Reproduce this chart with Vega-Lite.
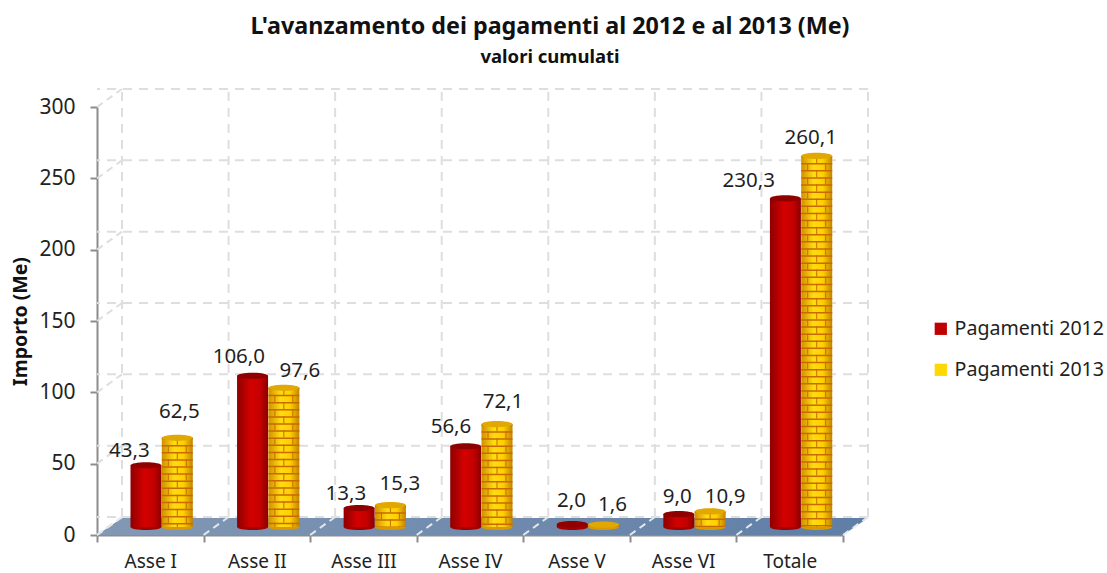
{
"$schema":"https://vega.github.io/schema/vega-lite/v6.json",
"width":746,"height":428,"autosize":"none","padding":{"left":97,"top":107,"right":264,"bottom":38},
"background":"white",
"config":{"view":{"stroke":null},"font":"Noto Sans"},
"title":{"text":"L'avanzamento dei pagamenti al 2012 e al 2013 (Me)","subtitle":"valori cumulati","anchor":"middle","dx":80,"offset":20,"font":"Noto Sans","fontSize":23.3,"fontWeight":"bold","color":"#111111","subtitleFont":"Noto Sans","subtitleFontSize":18.5,"subtitleFontWeight":"bold","subtitleColor":"#111111","subtitlePadding":9},
"datasets":{
"bars":[
{"asse":"Asse I","serie":"Pagamenti 2012","valore":43.3,"label":"43,3"},
{"asse":"Asse II","serie":"Pagamenti 2012","valore":106.0,"label":"106,0"},
{"asse":"Asse III","serie":"Pagamenti 2012","valore":13.3,"label":"13,3"},
{"asse":"Asse IV","serie":"Pagamenti 2012","valore":56.6,"label":"56,6"},
{"asse":"Asse V","serie":"Pagamenti 2012","valore":2.0,"label":"2,0"},
{"asse":"Asse VI","serie":"Pagamenti 2012","valore":9.0,"label":"9,0"},
{"asse":"Totale","serie":"Pagamenti 2012","valore":230.3,"label":"230,3"},
{"asse":"Asse I","serie":"Pagamenti 2013","valore":62.5,"label":"62,5"},
{"asse":"Asse II","serie":"Pagamenti 2013","valore":97.6,"label":"97,6"},
{"asse":"Asse III","serie":"Pagamenti 2013","valore":15.3,"label":"15,3"},
{"asse":"Asse IV","serie":"Pagamenti 2013","valore":72.1,"label":"72,1"},
{"asse":"Asse V","serie":"Pagamenti 2013","valore":1.6,"label":"1,6"},
{"asse":"Asse VI","serie":"Pagamenti 2013","valore":10.9,"label":"10,9"},
{"asse":"Totale","serie":"Pagamenti 2013","valore":260.1,"label":"260,1"}],
"yticks":[{"v":0},{"v":50},{"v":100},{"v":150},{"v":200},{"v":250},{"v":300}],
"xticks":[{"c":0},{"c":1},{"c":2},{"c":3},{"c":4},{"c":5},{"c":6},{"c":7}],
"floor":[{"c":0,"lo":0,"hi":0},{"c":0.2346,"lo":0,"hi":11.9},{"c":7,"lo":0,"hi":11.9},{"c":7.2346,"lo":11.9,"hi":11.9}]
},
"resolve":{"scale":{"x":"independent"}},
"layer":[
{"encoding":{},"layer":[
 {"data":{"name":"floor"},"mark":{"type":"area","clip":false,"color":{"gradient":"linear","x1":0,"y1":0,"x2":1,"y2":0,"stops":[{"offset":0,"color":"#8298b5"},{"offset":1,"color":"#5f7ea6"}]}},
  "encoding":{"x":{"field":"c","type":"quantitative","axis":null,"scale":{"domain":[0,7],"nice":false,"zero":false}},"y":{"field":"lo","type":"quantitative","scale":{"domain":[0,300],"nice":false}},"y2":{"field":"hi"}}},
 {"data":{"name":"yticks"},"mark":{"type":"rule","stroke":"#dedede","strokeWidth":2,"strokeDash":[9,7],"xOffset":25,"yOffset":-18},"encoding":{"y":{"field":"v","type":"quantitative"}}},
 {"data":{"name":"xticks"},"mark":{"type":"rule","stroke":"#dedede","strokeWidth":2,"strokeDash":[9,7],"xOffset":25,"x2Offset":25,"yOffset":-18,"y2Offset":-18},"encoding":{"x":{"field":"c","type":"quantitative"},"y":{"datum":0},"y2":{"datum":300}}},
 {"data":{"name":"yticks"},"mark":{"type":"rule","stroke":"#dedede","strokeWidth":2,"strokeDash":[7,5],"x2Offset":25,"y2Offset":-18},"encoding":{"x":{"datum":0},"x2":{"datum":0},"y":{"field":"v","type":"quantitative"},"y2":{"field":"v"}}},
 {"data":{"name":"xticks"},"mark":{"type":"rule","stroke":"#e4e8ee","strokeWidth":2,"strokeDash":[7,5],"x2Offset":25,"y2Offset":-18},"encoding":{"x":{"field":"c","type":"quantitative"},"x2":{"field":"c"},"y":{"datum":0},"y2":{"datum":0}}}
]},
{"data":{"name":"bars"},
 "encoding":{
  "x":{"field":"asse","type":"nominal","sort":null,"title":null,"scale":{"domain":["Asse I","Asse II","Asse III","Asse IV","Asse V","Asse VI","Totale"],"paddingInner":0,"paddingOuter":0},
   "axis":{"orient":"bottom","tickBand":"extent","labelAngle":0,"labelFontSize":19,"labelColor":"#222222","labelPadding":10,"domainColor":"#8c8c8c","domainWidth":2,"tickColor":"#8c8c8c","tickWidth":2,"tickSize":7,"grid":false}},
  "y":{"field":"valore","type":"quantitative","stack":null,"title":"Importo (Me)","scale":{"domain":[0,300],"nice":false},
   "axis":{"values":[0,50,100,150,200,250,300],"grid":false,"labelFontSize":21,"labelColor":"#222222","labelPadding":15,"domainColor":"#8c8c8c","domainWidth":2,"tickColor":"#8c8c8c","tickWidth":2,"tickSize":7,"titleFontSize":19.5,"titleFontWeight":"bold","titleColor":"#111111","titlePadding":8}}
 },
 "layer":[
  {"mark":{"type":"point","filled":true,"opacity":1,"size":0},"encoding":{"color":{"field":"serie","type":"nominal","scale":{"domain":["Pagamenti 2012","Pagamenti 2013"],"range":["#c00000","#ffd800"]},"legend":{"title":null,"orient":"none","legendX":834,"legendY":212,"symbolType":"square","symbolSize":150,"symbolOpacity":1,"symbolStrokeWidth":0,"labelFontSize":19.6,"labelColor":"#222222","rowPadding":20,"labelOffset":4,"labelLimit":200}}}},
  {"transform":[{"filter":"datum.serie=='Pagamenti 2012'"}],"layer":[
   {"mark":{"type":"point","filled":true,"opacity":1,"size":961,"shape":"M-1,0A1,0.2,0,1,1,1,0A1,0.2,0,1,1,-1,0Z","xOffset":-4.3,"yOffset":-8,"color":"#a00000"},"encoding":{"y":{"datum":0}}},
   {"mark":{"type":"bar","width":31,"xOffset":-4.3,"yOffset":-8,"y2Offset":-8,"color":{"gradient":"linear","x1":0,"y1":0,"x2":1,"y2":0,"stops":[{"offset":0,"color":"#8e0000"},{"offset":0.45,"color":"#d40000"},{"offset":0.75,"color":"#c40000"},{"offset":1,"color":"#8a0000"}]}},"encoding":{"y2":{"datum":0}}},
   {"mark":{"type":"point","filled":true,"opacity":1,"size":961,"shape":"M-1,0A1,0.2,0,1,1,1,0A1,0.2,0,1,1,-1,0Z","xOffset":-4.3,"yOffset":-8,"color":"#8f0000"}}
  ]},
  {"transform":[{"filter":"datum.serie=='Pagamenti 2013'"}],"layer":[
   {"mark":{"type":"point","filled":true,"opacity":1,"size":961,"shape":"M-1,0A1,0.2,0,1,1,1,0A1,0.2,0,1,1,-1,0Z","xOffset":27,"yOffset":-8,"color":"#d89a00"},"encoding":{"y":{"datum":0}}},
   {"mark":{"type":"bar","width":31,"xOffset":27,"yOffset":-8,"y2Offset":-8,"color":{"gradient":"linear","x1":0,"y1":0,"x2":1,"y2":0,"stops":[{"offset":0,"color":"#d09000"},{"offset":0.4,"color":"#ffdc10"},{"offset":0.7,"color":"#ffd000"},{"offset":1,"color":"#c08400"}]}},"encoding":{"y2":{"datum":0}}},
   {"mark":{"type":"rule","stroke":"#c96a00","strokeWidth":31,"strokeDash":[1.5,5.6],"xOffset":27,"yOffset":-8,"y2Offset":-8},"encoding":{"y2":{"datum":0}}},
   {"mark":{"type":"rule","stroke":"#c96a00","strokeWidth":1,"strokeDash":[7.1,7.1],"xOffset":27,"yOffset":-8,"y2Offset":-8},"encoding":{"y2":{"datum":0}}},
   {"mark":{"type":"rule","stroke":"#c96a00","strokeWidth":1,"strokeDash":[7.1,7.1],"strokeDashOffset":7.1,"xOffset":18,"yOffset":-8,"y2Offset":-8},"encoding":{"y2":{"datum":0}}},
   {"mark":{"type":"rule","stroke":"#c96a00","strokeWidth":1,"strokeDash":[7.1,7.1],"strokeDashOffset":7.1,"xOffset":36,"yOffset":-8,"y2Offset":-8},"encoding":{"y2":{"datum":0}}},
   {"mark":{"type":"point","filled":true,"opacity":1,"size":961,"shape":"M-1,0A1,0.2,0,1,1,1,0A1,0.2,0,1,1,-1,0Z","xOffset":27,"yOffset":-8,"color":"#e0a800"}}
  ]},
  {"transform":[{"filter":"datum.label=='43,3'"}],"mark":{"type":"text","fontSize":20.5,"color":"#1f1f1f","dx":-21,"dy":-22},"encoding":{"text":{"field":"label"}}},
  {"transform":[{"filter":"datum.label=='62,5'"}],"mark":{"type":"text","fontSize":20.5,"color":"#1f1f1f","dx":29,"dy":-34},"encoding":{"text":{"field":"label"}}},
  {"transform":[{"filter":"datum.label=='106,0'"}],"mark":{"type":"text","fontSize":20.5,"color":"#1f1f1f","dx":-18,"dy":-27},"encoding":{"text":{"field":"label"}}},
  {"transform":[{"filter":"datum.label=='97,6'"}],"mark":{"type":"text","fontSize":20.5,"color":"#1f1f1f","dx":43,"dy":-25},"encoding":{"text":{"field":"label"}}},
  {"transform":[{"filter":"datum.label=='13,3'"}],"mark":{"type":"text","fontSize":20.5,"color":"#1f1f1f","dx":-17.5,"dy":-22},"encoding":{"text":{"field":"label"}}},
  {"transform":[{"filter":"datum.label=='15,3'"}],"mark":{"type":"text","fontSize":20.5,"color":"#1f1f1f","dx":36.5,"dy":-29},"encoding":{"text":{"field":"label"}}},
  {"transform":[{"filter":"datum.label=='56,6'"}],"mark":{"type":"text","fontSize":20.5,"color":"#1f1f1f","dx":-19,"dy":-27},"encoding":{"text":{"field":"label"}}},
  {"transform":[{"filter":"datum.label=='72,1'"}],"mark":{"type":"text","fontSize":20.5,"color":"#1f1f1f","dx":33,"dy":-30},"encoding":{"text":{"field":"label"}}},
  {"transform":[{"filter":"datum.label=='2,0'"}],"mark":{"type":"text","fontSize":20.5,"color":"#1f1f1f","dx":-5,"dy":-31},"encoding":{"text":{"field":"label"}}},
  {"transform":[{"filter":"datum.label=='1,6'"}],"mark":{"type":"text","fontSize":20.5,"color":"#1f1f1f","dx":36,"dy":-28},"encoding":{"text":{"field":"label"}}},
  {"transform":[{"filter":"datum.label=='9,0'"}],"mark":{"type":"text","fontSize":20.5,"color":"#1f1f1f","dx":-6,"dy":-25},"encoding":{"text":{"field":"label"}}},
  {"transform":[{"filter":"datum.label=='10,9'"}],"mark":{"type":"text","fontSize":20.5,"color":"#1f1f1f","dx":42,"dy":-22},"encoding":{"text":{"field":"label"}}},
  {"transform":[{"filter":"datum.label=='230,3'"}],"mark":{"type":"text","fontSize":20.5,"color":"#1f1f1f","dx":-41,"dy":-25},"encoding":{"text":{"field":"label"}}},
  {"transform":[{"filter":"datum.label=='260,1'"}],"mark":{"type":"text","fontSize":20.5,"color":"#1f1f1f","dx":21,"dy":-26},"encoding":{"text":{"field":"label"}}}
 ]}
]
}
